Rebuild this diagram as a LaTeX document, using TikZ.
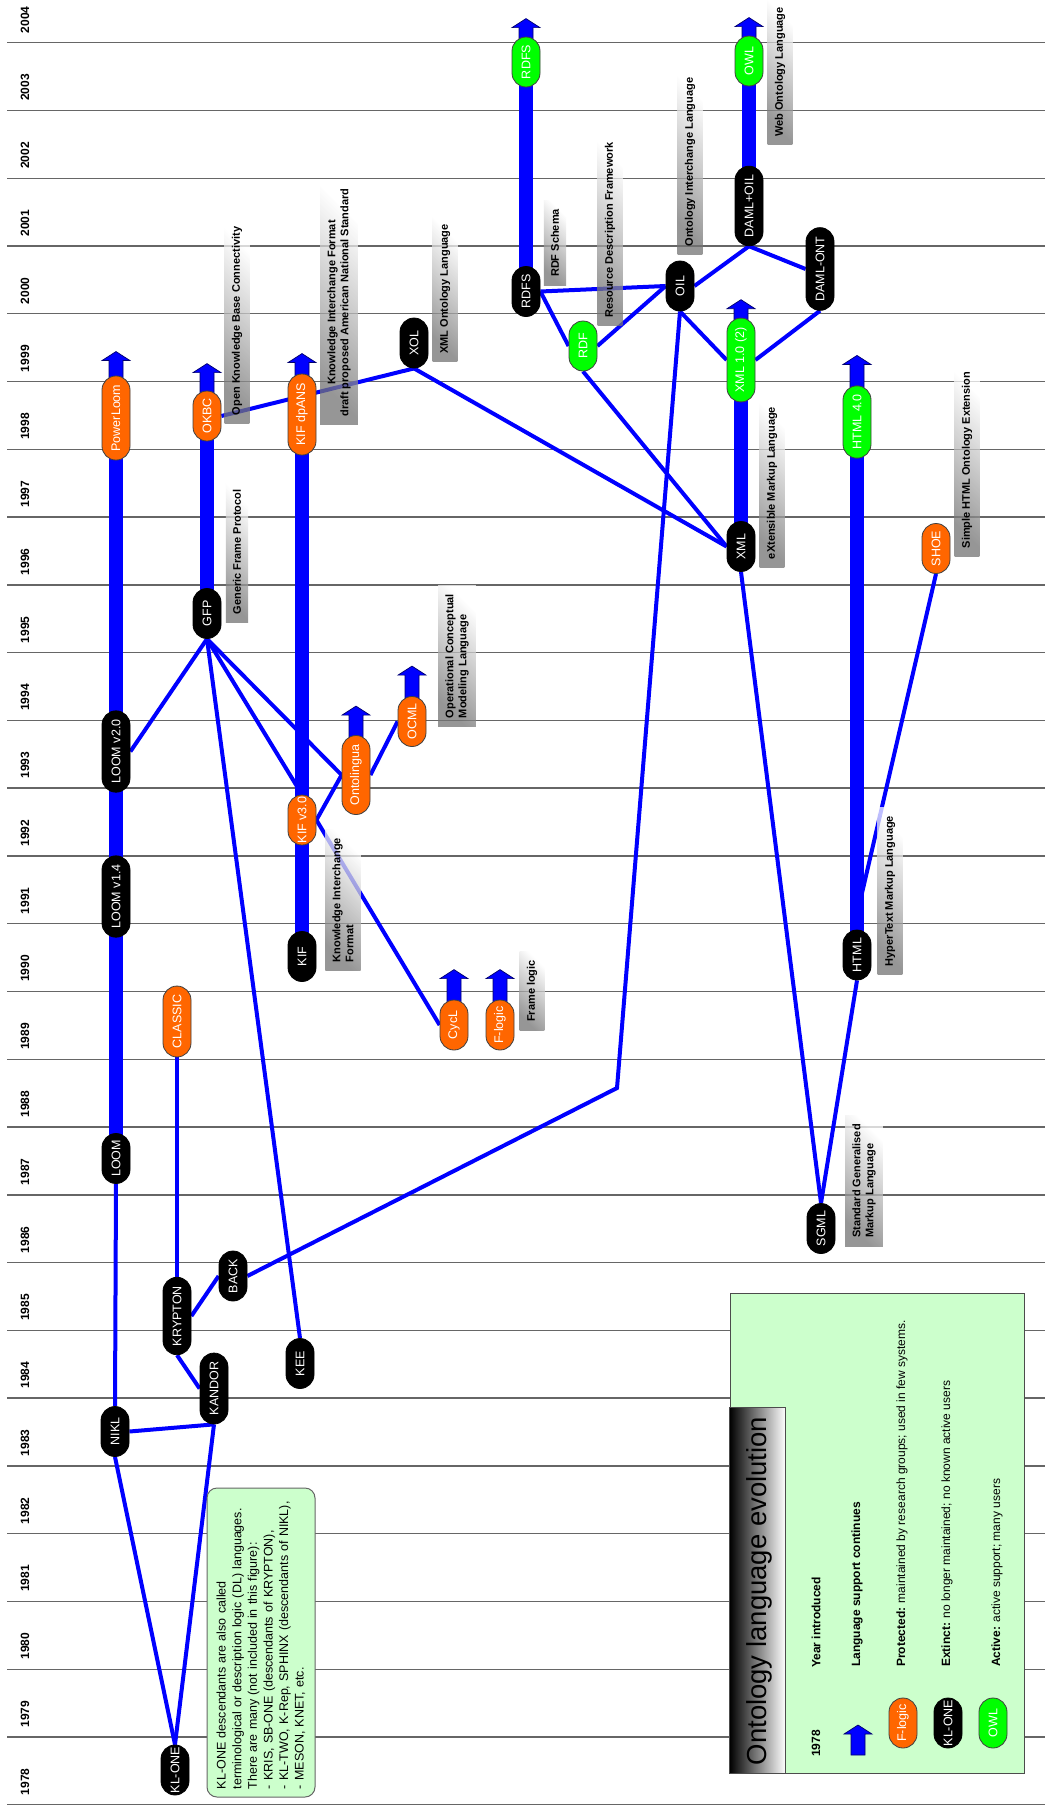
\documentclass[tikz,border=0pt]{standalone}
\usepackage{fontspec}
\setmainfont{Liberation Sans}
\usetikzlibrary{calc,shapes.misc}

\pgfdeclarelayer{grid}
\pgfdeclarelayer{links}
\pgfdeclarelayer{tags}
\pgfdeclarelayer{bars}
\pgfsetlayers{grid,links,tags,bars,main}

\definecolor{protOrange}{RGB}{255,102,0}
\definecolor{activeGreen}{RGB}{0,255,0}
\definecolor{paleGreen}{RGB}{204,255,204}
\definecolor{linkBlue}{RGB}{0,0,255}
\definecolor{barEdge}{RGB}{0,0,110}

\newcommand\pillfont{\fontsize{12.5}{14}\selectfont}
\newcommand\tagfont{\bfseries\fontsize{11}{13}\selectfont}
\newcommand\notefont{\fontsize{12.5}{15.6}\selectfont}
\newcommand\legfont{\fontsize{12}{14}\selectfont}

% block arrow: #1 base point, #2 length above it, #3 how far the shaft starts below it
\newcommand\supportarrow[3]{%
  \path[arrowshape] ($(#1)+(-7,#3)$) -- ($(#1)+(-7,{9-#2})$) -- ($(#1)+(-14,{9-#2})$)
    -- ($(#1)+(0,-#2)$) -- ($(#1)+(14,{9-#2})$) -- ($(#1)+(7,{9-#2})$) -- ($(#1)+(7,#3)$) -- cycle;}

\tikzset{
  pill/.style={rounded rectangle, rotate=90, minimum width=66pt, minimum height=28pt,
    inner xsep=8pt, inner ysep=0pt, font=\pillfont, text=white, draw=black!75, line width=0.8pt},
  extinct/.style={pill, fill=black, draw=black},
  protected/.style={pill, fill=protOrange},
  active/.style={pill, fill=activeGreen},
  tag/.style={rotate=90, font=\tagfont, inner xsep=8pt, inner ysep=7pt},
  tagbg/.style={top color=black!55, middle color=white, bottom color=white, shading angle=135, fill opacity=0.75},
  link/.style={draw=linkBlue, line width=4pt},
  bar/.style={draw=barEdge, line width=0.7pt, double=linkBlue, double distance=13.4pt},
  arrowshape/.style={fill=linkBlue, draw=barEdge, line width=0.7pt},
  yearline/.style={draw=black!60, line width=1.4pt},
  yearlbl/.style={rotate=90, font=\bfseries\fontsize{12}{14}\selectfont},
  legtext/.style={rotate=90, anchor=west, inner sep=0pt, font=\legfont},
}

\begin{document}
\begin{tikzpicture}[x=1pt, y=-1pt]
\useasboundingbox (0,0) rectangle (1045,1812);

% ---------- time grid ----------
\begin{pgfonlayer}{grid}
  \fill[white] (0,0) rectangle (1045,1812);
  \foreach \k in {0,...,26}{
    \draw[yearline] (7,{42.7+\k*67.77}) -- (1045,{42.7+\k*67.77});
  }
\end{pgfonlayer}
\foreach \k in {0,...,26}{
  \pgfmathtruncatemacro\yr{2004-\k}
  \node[yearlbl] (yr\yr) at (25,{19.8+\k*67.77}) {\yr};
}

% ---------- languages ----------
\node[protected] (powerloom) at (116,418) {PowerLoom};
\node[protected] (okbc) at (207,416) {OKBC};
\node[protected] (kifdp) at (302,414.5) {KIF dpANS};
\node[extinct] (xol) at (414,343) {XOL};
\node[active] (rdfsnew) at (526,62) {RDFS};
\node[extinct] (rdfs) at (526,291.5) {RDFS};
\node[active] (rdf) at (583,346) {RDF};
\node[extinct] (oil) at (680,286) {OIL};
\node[active] (owl) at (749,61) {OWL};
\node[extinct] (damloil) at (749,206) {DAML+OIL};
\node[extinct] (damlont) at (820,269) {DAML-ONT};
\node[active] (xmlnew) at (741,360) {XML 1.0 (2)};
\node[active] (htmlnew) at (857,422) {HTML 4.0};
\node[extinct] (xml) at (741,546.5) {XML};
\node[protected] (shoe) at (936,548.5) {SHOE};
\node[extinct] (gfp) at (207,613.5) {GFP};
\node[extinct] (loomtwo) at (116,751.5) {LOOM v2.0};
\node[protected] (kifthree) at (302,820) {KIF v3.0};
\node[protected] (onto) at (356,775) {Ontolingua};
\node[protected] (ocml) at (412,721.5) {OCML};
\node[extinct] (loomone) at (116,896.5) {LOOM v1.4};
\node[extinct] (kif) at (302,956.5) {KIF};
\node[extinct] (html) at (857,955) {HTML};
\node[protected] (classic) at (177,1021.5) {CLASSIC};
\node[protected] (cycl) at (454,1025) {CycL};
\node[protected] (flogic) at (500,1025) {F-logic};
\node[extinct] (loom) at (116,1158.5) {LOOM};
\node[extinct] (sgml) at (821,1228.5) {SGML};
\node[extinct] (back) at (233,1276) {BACK};
\node[extinct] (krypton) at (177,1316) {KRYPTON};
\node[extinct] (kee) at (300,1363.5) {KEE};
\node[extinct] (kandor) at (214,1388.5) {KANDOR};
\node[extinct] (nikl) at (115,1431.5) {NIKL};
\node[extinct] (klone) at (175,1770) {KL-ONE};

% ---------- full names ----------
\node[tag] (tOKBC) at (237,321) {Open Knowledge Base Connectivity};
\node[tag, align=center] (tKIFdp) at (339,302.5) {Knowledge Interchange Format\\draft proposed American National Standard};
\node[tag] (tXOL) at (445,289) {XML Ontology Language};
\node[tag] (tRDFS) at (555,243) {RDF Schema};
\node[tag] (tRDF) at (610,230) {Resource Description Framework};
\node[tag] (tOIL) at (690,162) {Ontology Interchange Language};
\node[tag] (tOWL) at (780,72) {Web Ontology Language};
\node[tag] (tGFP) at (237,552) {Generic Frame Protocol};
\node[tag, align=left] (tOCML) at (457,656) {Operational Conceptual\\Modeling Language};
\node[tag] (tXML) at (772,483) {eXtensible Markup Language};
\node[tag] (tSHOE) at (967,460) {Simple HTML Ontology Extension};
\node[tag] (tHTML) at (890,891) {HyperText Markup Language};
\node[tag, align=left] (tKIF) at (343,900) {Knowledge Interchange\\Format};
\node[tag] (tFL) at (532,991) {Frame logic};
\node[tag, align=left] (tSGML) at (864,1181) {Standard Generalised\\Markup Language};

\begin{pgfonlayer}{tags}
  \foreach \t in {tOKBC,tKIFdp,tXOL,tRDFS,tRDF,tOIL,tOWL,tGFP,tOCML,tXML,tSHOE,tHTML,tKIF,tFL,tSGML}{
    \path[tagbg] (\t.north west) rectangle (\t.south east);
  }
\end{pgfonlayer}

% ---------- influences ----------
\begin{pgfonlayer}{links}
  \draw[link] (rdfs.south) -- (oil.north);
  \draw[link] (rdfs.south) -- (rdf.north);
  \draw[link] (rdf.south) -- (oil.north);
  \draw[link] (oil.south) -- (damloil.west);
  \draw[link] (damloil.west) -- (damlont.north);
  \draw[link] (oil.west) -- (xmlnew.north);
  \draw[link] (damlont.west) -- (xmlnew.south);
  \coordinate (kink) at (617,1088);
  \draw[link] (oil.west) -- (kink) -- (back.south);
  \draw[link] (rdf.west) -- (xml.north);
  \draw[link] (xol.west) -- (xml.north);
  \draw[link] (okbc.south) -- (xol.west);
  \draw[link] (xml.west) -- (sgml.east);
  \draw[link] (html.west) -- (sgml.east);
  \draw[link] (shoe.west) -- ($(html.east)+(0,-15)$);
  \draw[link] (gfp.west) -- (loomtwo.south);
  \draw[link] (gfp.west) -- (kifthree.east);
  \draw[link] (gfp.west) -- (onto.north);
  \draw[link] (gfp.west) -- (kee.east);
  \draw[link] (kifthree.south) -- (onto.north);
  \draw[link] (onto.south) -- (ocml.north);
  \draw[link] (kifthree.south) -- (cycl.north);
  \draw[link] (loom.west) -- (nikl.east);
  \draw[link] (classic.west) -- (krypton.east);
  \draw[link] (krypton.south) -- (back.north);
  \draw[link] (krypton.west) -- (kandor.north);
  \draw[link] (nikl.south) -- (kandor.west);
  \draw[link] (nikl.west) -- (klone.east);
  \draw[link] (kandor.west) -- (klone.east);
\end{pgfonlayer}

% ---------- continued support ----------
\begin{pgfonlayer}{bars}
  \draw[bar] (loom.center) -- (powerloom.center);
  \draw[bar] (gfp.center) -- (okbc.center);
  \draw[bar] (kif.center) -- (kifdp.center);
  \draw[bar] (rdfs.center) -- (rdfsnew.center);
  \draw[bar] (damloil.center) -- (owl.center);
  \draw[bar] (xml.center) -- (xmlnew.center);
  \draw[bar] (html.center) -- (htmlnew.center);
  \supportarrow{powerloom.east}{24}{12}
  \supportarrow{okbc.east}{27}{12}
  \supportarrow{kifdp.east}{20}{12}
  \supportarrow{rdfsnew.east}{18}{12}
  \supportarrow{owl.east}{18}{12}
  \supportarrow{xmlnew.east}{18}{12}
  \supportarrow{htmlnew.east}{30}{12}
  \supportarrow{onto.east}{29}{12}
  \supportarrow{ocml.east}{30}{12}
  \supportarrow{cycl.east}{30}{12}
  \supportarrow{flogic.east}{30}{12}
\end{pgfonlayer}

% ---------- note ----------
\node[rotate=90, draw=black!60, line width=1pt, fill=paleGreen, rounded corners=10pt,
      minimum width=309pt, minimum height=108pt, inner xsep=8pt, text width=293pt,
      align=left, font=\notefont] (note) at (261,1642.5)
  {KL-ONE descendants are also called\\
   terminological or description logic (DL) languages.\\
   There are many (not included in this figure):\\
   - KRIS, SB-ONE (descendants of KRYPTON),\\
   - KL-TWO, K-Rep, SPHINX (descendants of NIKL),\\
   - MESON, KNET, etc.};

% ---------- legend ----------
\node[draw=black!70, line width=1pt, fill=paleGreen, minimum width=294pt, minimum height=480pt,
      inner sep=0pt] (legend) at (877,1533) {};
\path[left color=black, middle color=black!25, right color=white, draw=black!70, line width=1pt]
  (legend.south west) rectangle ++(56,-366);
\node[rotate=90, inner sep=0pt, font=\fontsize{27.5}{30}\selectfont] (title) at (759,1591)
  {Ontology language evolution};

\node[legtext, font=\bfseries\legfont] (lgyear) at (816,1757) {1978};
\node[legtext, font=\bfseries\legfont] (lgyeartxt) at (816,1668) {Year introduced};
\coordinate (lgarrow) at (858,1755);
\supportarrow{lgarrow}{30}{0}
\node[legtext, font=\bfseries\legfont] (lgcont) at (857,1667) {Language support continues};
\node[protected] (lgprot) at (903,1723) {F-logic};
\node[legtext] (lgprottxt) at (902,1667) {\textbf{Protected:} maintained by research groups; used in few systems.};
\node[extinct] (lgext) at (948,1723) {KL-ONE};
\node[legtext] (lgexttxt) at (947,1667) {\textbf{Extinct:} no longer maintained; no known active users};
\node[active] (lgact) at (993,1723) {OWL};
\node[legtext] (lgacttxt) at (997,1667) {\textbf{Active:} active support; many users};
\end{tikzpicture}
\end{document}
